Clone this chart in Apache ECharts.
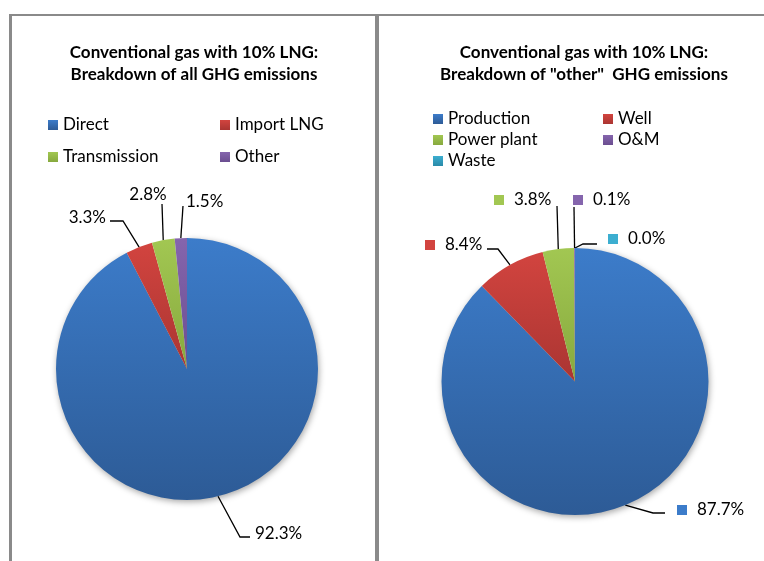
<!DOCTYPE html>
<html>
<head>
<meta charset="utf-8">
<script src="https://cdn.jsdelivr.net/npm/echarts@6/dist/echarts.min.js"></script>
<style>
  html, body { margin: 0; padding: 0; background: #fff; }
  #wrap { position: relative; width: 764px; height: 561px; overflow: hidden; }
  #main { position: absolute; left: 0; top: 0; width: 764px; height: 561px; }
  .ln { position: absolute; background: #8a8a8a; }
</style>
</head>
<body>
<div id="wrap">
  <div class="ln" style="left:9px;top:14px;width:3px;height:547px"></div>
  <div class="ln" style="left:9px;top:14px;width:755px;height:2px"></div>
  <div class="ln" style="left:375px;top:14px;width:4px;height:547px"></div>
  <div id="main"></div>
</div>
<script>
// left pie: all GHG emissions (%)
const allNames = ['Direct', 'Import LNG', 'Transmission', 'Other'];
const allValues = [92.3, 3.3, 2.8, 1.5];

// right pie: breakdown of "other" (%)
const otherNames = ['Production', 'Well', 'Power plant', 'O&M', 'Waste'];
const otherValues = [87.7, 8.4, 3.8, 0.1, 0.0];

const leftTitle = 'Conventional gas with 10% LNG:\nBreakdown of all GHG emissions';
const rightTitle = 'Conventional gas with 10% LNG:\nBreakdown of "other"  GHG emissions';

// excel 2007 style colours, top -> bottom of the gradient
const palette = [
  ['#3c7cca', '#2d5b96'],
  ['#d2443f', '#aa3532'],
  ['#a2c752', '#87a93e'],
  ['#8565ad', '#6b4e90'],
  ['#3caed0', '#2a8aa8']
];

// where excel put the data labels (label anchor + leader bends)
const leftLabelPos = [
  { x: 255, y: 534, align: 'left', line: [[240, 537], [250, 537]] },
  { x: 106, y: 218, align: 'right', line: [[123, 221], [110, 221]] },
  { x: 148, y: 195, align: 'center', line: [[162, 204]] },
  { x: 186, y: 202, align: 'left', line: [[183, 206]] }
];
const rightLabelPos = [
  { x: 677, y: 510, align: 'left', line: [[653, 513], [665, 513]] },
  { x: 425, y: 245, align: 'left', line: [[498, 249], [487, 249]] },
  { x: 494, y: 200, align: 'left', line: [[557, 206]] },
  { x: 573, y: 200, align: 'left', line: [[574, 207]] },
  { x: 608, y: 239, align: 'left', line: [[583, 244], [597, 244]] }
];

const FONT = 'Lato';

function grad(i) {
  return new echarts.graphic.LinearGradient(0, 0, 0, 1, [
    { offset: 0, color: palette[i][0] },
    { offset: 1, color: palette[i][1] }
  ]);
}

function buildData(names, values) {
  return names.map(function (n, i) {
    const item = { name: n, value: values[i], itemStyle: { color: grad(i) } };
    if (i === 0) {
      item.itemStyle.shadowBlur = 6;
      item.itemStyle.shadowColor = 'rgba(0,0,0,0.35)';
      item.itemStyle.shadowOffsetY = 2;
      item.itemStyle.shadowOffsetX = 1;
    }
    return item;
  });
}

function placer(pos) {
  return function (p) {
    const s = pos[p.dataIndex];
    const out = { x: s.x, y: s.y, align: s.align, verticalAlign: 'middle' };
    if (p.labelLinePoints) out.labelLinePoints = [p.labelLinePoints[0]].concat(s.line);
    return out;
  };
}

const markerRich = {};
palette.forEach(function (c, i) {
  markerRich['m' + i] = { width: 10, height: 10, backgroundColor: c[0], verticalAlign: 'middle' };
});
markerRich.v = { fontFamily: FONT, fontSize: 17, color: '#000', padding: [0, 0, 0, 10], verticalAlign: 'middle' };

const titleStyle = { fontFamily: FONT, fontSize: 17, fontWeight: 'bold', color: '#000', lineHeight: 22 };
const legendText = { fontFamily: FONT, fontSize: 17, color: '#000' };

const chart = echarts.init(document.getElementById('main'));
chart.setOption({
  animation: false,
  title: [
    { text: leftTitle, left: 194, top: 42, padding: 0, textAlign: 'center', textStyle: titleStyle },
    { text: rightTitle, left: 584, top: 42, padding: 0, textAlign: 'center', textStyle: titleStyle }
  ],
  legend: [
    {
      data: allNames, left: 48, top: 114, width: 340, padding: 0,
      icon: 'rect', itemWidth: 10, itemHeight: 10, itemGap: 10,
      textStyle: Object.assign({ width: 147, lineHeight: 22 }, legendText)
    },
    {
      data: otherNames, left: 433, top: 110, width: 340, padding: 0,
      icon: 'rect', itemWidth: 10, itemHeight: 10, itemGap: 3,
      textStyle: Object.assign({ width: 152, lineHeight: 18 }, legendText)
    }
  ],
  series: [
    {
      type: 'pie', name: 'all', center: [187, 369], radius: 131,
      startAngle: 90, clockwise: true, avoidLabelOverlap: false,
      data: buildData(allNames, allValues),
      label: {
        show: true, position: 'outside',
        fontFamily: FONT, fontSize: 17, color: '#000',
        formatter: function (p) { return p.value.toFixed(1) + '%'; }
      },
      labelLine: { show: true, length: 15, length2: 10, smooth: false, lineStyle: { color: '#000', width: 1.3 } },
      labelLayout: placer(leftLabelPos),
      emphasis: { disabled: true }
    },
    {
      type: 'pie', name: 'other', center: [575, 381.5], radius: 133.5,
      startAngle: 90, clockwise: true, avoidLabelOverlap: false,
      data: buildData(otherNames, otherValues),
      label: {
        show: true, position: 'outside',
        formatter: function (p) { return '{m' + p.dataIndex + '|}{v|' + p.value.toFixed(1) + '%}'; },
        rich: markerRich
      },
      labelLine: { show: true, length: 15, length2: 10, smooth: false, lineStyle: { color: '#000', width: 1.3 } },
      labelLayout: placer(rightLabelPos),
      emphasis: { disabled: true }
    }
  ]
});
</script>
</body>
</html>
